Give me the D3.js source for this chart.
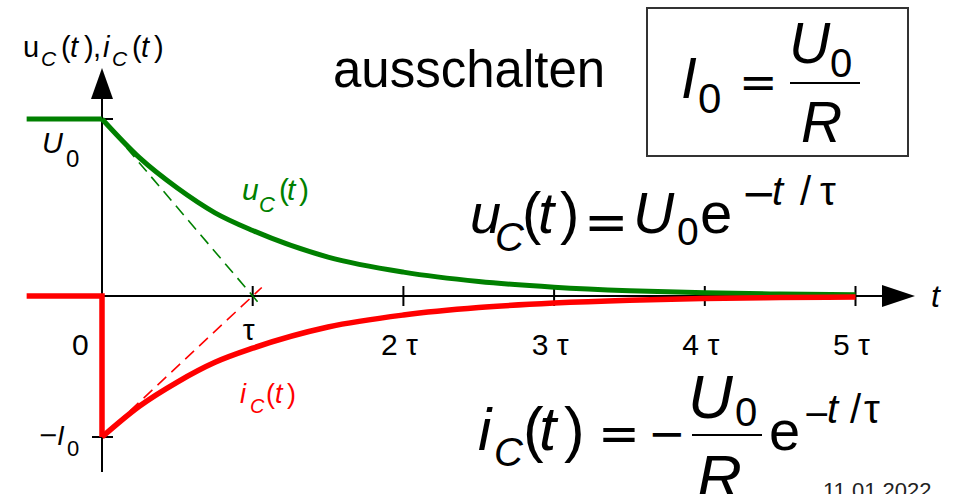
<!DOCTYPE html>
<html>
<head>
<meta charset="utf-8">
<script src="https://cdn.jsdelivr.net/npm/d3@7"></script>
<style>
  body { margin: 0; background: #fff; }
  svg { display: block; }
  text { font-family: "Liberation Sans", Arial, sans-serif; fill: #000; }
</style>
</head>
<body>
<svg id="chart" width="955" height="494"></svg>
<script>
// Time in units of tau; voltage normalised to U0, current normalised to I0.
const decayT   = [0, 0.25, 0.5, 0.75, 1, 1.5, 2, 2.5, 3, 3.5, 4, 4.5, 5];
const uDecay   = [1, 0.78, 0.61, 0.47, 0.37, 0.22, 0.135, 0.082, 0.05, 0.03, 0.018, 0.011, 0.007];
const iDecay   = [-1, -0.78, -0.61, -0.47, -0.37, -0.22, -0.135, -0.082, -0.05, -0.03, -0.018, -0.011, -0.007];
// Before switching off (t < 0) and the current jump at t = 0
const uBeforeT = [-0.5, 0];
const uBefore  = [1, 1];
const iBeforeT = [-0.5, 0, 0];
const iBefore  = [0, 0, -1];
// Initial tangents, reaching the time axis at t = tau
const tangentT = [0, 1.06];
const uTangent = [1, -0.06];
const iTangent = [-1, 0.06];
// Time axis ticks
const tickValues = [1, 2, 3, 4, 5];
const tickLabels = ["τ", "2 τ", "3 τ", "4 τ", "5 τ"];

const GREEN = "#008000", RED = "#ff0000";
const SYM = "DejaVu Sans";
const svg = d3.select("#chart");

const x  = d3.scaleLinear().domain([0, 5]).range([102, 855.5]);
const yU = d3.scaleLinear().domain([0, 1]).range([296, 119]);
const yI = d3.scaleLinear().domain([-1, 0]).range([437, 296]);

const x0 = x(0), yAxis = yU(0);

// ---- axes ----
const axes = svg.append("g").attr("stroke", "#000").attr("stroke-width", 2);
axes.append("line").attr("x1", x0).attr("x2", 884).attr("y1", yAxis).attr("y2", yAxis);
axes.append("line").attr("x1", x0).attr("x2", x0).attr("y1", 99).attr("y2", 472);
svg.append("path").attr("d", `M915,${yAxis} L882,${yAxis - 11} L882,${yAxis + 11} Z`).attr("fill", "#000");
svg.append("path").attr("d", `M${x0},68 L${x0 - 11},99 L${x0 + 11},99 Z`).attr("fill", "#000");

// time ticks
axes.selectAll("line.tick").data(tickValues).join("line")
  .attr("class", "tick")
  .attr("x1", d => x(d)).attr("x2", d => x(d))
  .attr("y1", yAxis - 10).attr("y2", yAxis + 10);
// level ticks U0 and -I0
axes.append("line").attr("x1", x0).attr("x2", x0 + 11).attr("y1", yU(1)).attr("y2", yU(1));
axes.append("line").attr("x1", x0 - 10).attr("x2", x0 + 11).attr("y1", yI(-1)).attr("y2", yI(-1));

// tick labels
svg.selectAll("text.tlabel").data(tickValues).join("text")
  .attr("class", "tlabel")
  .attr("x", d => x(d) - 4)
  .attr("y", (d, i) => i === 0 ? 340 : 355)
  .attr("text-anchor", "middle")
  .attr("font-size", 30)
  .text((d, i) => tickLabels[i]);
svg.append("text").attr("x", 72).attr("y", 355).attr("font-size", 30).text("0");

// ---- tangents ----
const tangentLine = (ys, vals) => d3.line().x((d, i) => x(tangentT[i])).y((d, i) => ys(vals[i]))(tangentT);
svg.append("path").attr("d", tangentLine(yU, uTangent))
  .attr("fill", "none").attr("stroke", GREEN).attr("stroke-width", 1.6).attr("stroke-dasharray", "12,7");
svg.append("path").attr("d", tangentLine(yI, iTangent))
  .attr("fill", "none").attr("stroke", RED).attr("stroke-width", 1.6).attr("stroke-dasharray", "12,7");

// ---- curves ----
const curve = (ts, ys, vals, c) => d3.line()
  .x((d, i) => x(ts[i])).y((d, i) => ys(vals[i])).curve(c)(ts);

svg.append("path").attr("d", curve(uBeforeT, yU, uBefore, d3.curveLinear))
  .attr("fill", "none").attr("stroke", GREEN).attr("stroke-width", 5);
svg.append("path").attr("d", curve(decayT, yU, uDecay, d3.curveMonotoneX))
  .attr("fill", "none").attr("stroke", GREEN).attr("stroke-width", 5);
svg.append("path").attr("d", curve(iBeforeT, yI, iBefore, d3.curveLinear))
  .attr("fill", "none").attr("stroke", RED).attr("stroke-width", 5.5).attr("stroke-linejoin", "miter");
svg.append("path").attr("d", curve(decayT, yI, iDecay, d3.curveMonotoneX))
  .attr("fill", "none").attr("stroke", RED).attr("stroke-width", 5.5);

// ---- formula-style text: [string, x, baseline, size, italic, family] ----
function mathText(pieces, color) {
  const t = svg.append("text").style("fill", color || "#000");
  pieces.forEach(p => {
    const s = t.append("tspan")
      .attr("x", p[1]).attr("y", p[2])
      .attr("font-size", p[3])
      .attr("font-style", p[4] ? "italic" : "normal")
      .text(p[0]);
    if (p[5]) s.attr("font-family", p[5]);
  });
  return t;
}

// axis caption
mathText([
  ["u", 23, 57, 29, false], ["C", 41, 66, 21, true], ["(", 61, 57, 29, false],
  ["t", 70, 57, 29, true], [")", 84, 57, 29, false], [",", 93, 57, 29, false],
  ["i", 103, 57, 29, true], ["C", 112, 66, 21, true], ["(", 132, 57, 29, false],
  ["t", 141, 57, 29, true], [")", 154, 57, 29, false]
]);
// level labels
mathText([["U", 42, 153, 29, true], ["0", 66, 167, 24, false]]);
mathText([["−", 38, 443, 24, false, SYM], ["I", 57, 445, 27, true], ["0", 67, 456, 22, false]]);
// time axis label
mathText([["t", 931, 307, 32, true]]);

// curve labels
mathText([["u", 242, 200, 30, true], ["C", 259, 212, 22, true], ["(", 279, 200, 30, false],
          ["t", 287, 200, 30, true], [")", 299, 200, 30, false]], GREEN);
mathText([["i", 240, 403, 27, true], ["C", 250, 413, 20, true], ["(", 266, 403, 27, false],
          ["t", 275, 403, 27, true], [")", 287, 403, 27, false]], RED);

// title
svg.append("text").attr("x", 333).attr("y", 87).attr("font-size", 51).text("ausschalten");

// boxed definition I0 = U0 / R
svg.append("rect").attr("x", 647).attr("y", 8).attr("width", 261).attr("height", 148)
  .attr("fill", "none").attr("stroke", "#333").attr("stroke-width", 2);
mathText([["I", 681, 98, 57, true], ["0", 698, 113, 42, false], ["=", 739, 98, 46, false, SYM],
          ["U", 789, 63, 57, true], ["0", 830, 77, 40, false], ["R", 801, 142, 57, true]]);
svg.append("line").attr("x1", 790).attr("x2", 860).attr("y1", 83).attr("y2", 83)
  .attr("stroke", "#000").attr("stroke-width", 2);

// u_C(t) = U0 e^{-t/tau}
mathText([
  ["u", 470, 233, 56, true], ["C", 495, 251, 40, true], ["(", 522, 233, 58, false],
  ["t", 538, 233, 58, true], [")", 560, 233, 58, false], ["=", 584, 240, 53, false, SYM],
  ["U", 633, 233, 57, true], ["0", 677, 245, 39, false], ["e", 700, 233, 58, false],
  ["−", 741, 208, 42, false, SYM], ["t", 772, 205, 40, true], ["/", 800, 205, 40, false],
  ["τ", 820, 205, 40, false]
]);

// i_C(t) = -(U0/R) e^{-t/tau}
mathText([
  ["i", 478, 450, 60, true], ["C", 494, 466, 40, true], ["(", 523, 450, 62, false],
  ["t", 539, 450, 62, true], [")", 564, 450, 62, false], ["=", 598, 451, 50, false, SYM],
  ["−", 648, 449, 45, false, SYM],
  ["U", 688, 418, 62, true], ["0", 735, 426, 40, false], ["R", 697, 498, 62, true],
  ["e", 769, 450, 56, false],
  ["−", 803, 425, 33, false, SYM], ["t", 827, 423, 40, true], ["/", 850, 423, 40, false],
  ["τ", 864, 423, 40, false]
]);
svg.append("line").attr("x1", 692).attr("x2", 762).attr("y1", 435).attr("y2", 435)
  .attr("stroke", "#000").attr("stroke-width", 2);

// date
svg.append("text").attr("x", 823).attr("y", 498).attr("font-size", 22).style("fill", "#222").text("11.01.2022");
</script>
</body>
</html>
